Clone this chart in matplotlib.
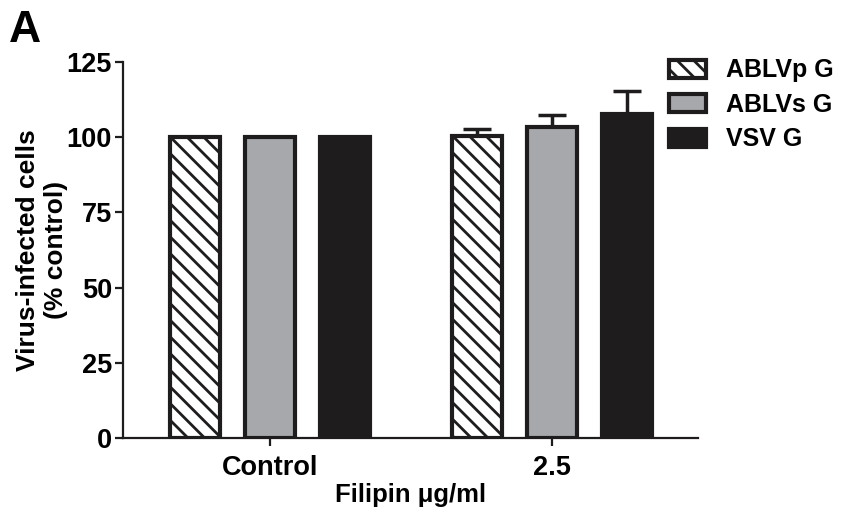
import matplotlib
matplotlib.use("Agg")
import matplotlib.pyplot as plt
import numpy as np

plt.rcParams['font.family'] = ['Liberation Sans', 'DejaVu Sans']
plt.rcParams['font.weight'] = 'bold'
plt.rcParams['hatch.linewidth'] = 2.0

groups = ["Control", "2.5"]
series = ["ABLVp G", "ABLVs G", "VSV G"]
values = {
    "ABLVp G": [100, 100.5],
    "ABLVs G": [100, 103.5],
    "VSV G": [100, 107.7],
}
errors = {
    "ABLVp G": [0, 2.2],
    "ABLVs G": [0, 4.0],
    "VSV G": [0, 7.8],
}
colors = {"ABLVp G": "white", "ABLVs G": "#a7a8ac", "VSV G": "#1f1c1d"}
hatches = {"ABLVp G": "\\\\", "ABLVs G": None, "VSV G": None}
edge = "#1f1c1d"

fig = plt.figure(figsize=(8.44, 5.14), dpi=100)
ax = fig.add_axes([123/844, 1-438/514, (698-123)/844, (438-62)/514])

x = np.arange(len(groups))
step = 0.266
width = 0.18
for i, s in enumerate(series):
    pos = x + (i - 1) * step
    ax.bar(pos, values[s], width, color=colors[s], edgecolor=edge,
           linewidth=3, hatch=hatches[s], label=s, zorder=2)
    errs = np.array(errors[s])
    mask = errs > 0
    ax.errorbar(pos[mask], np.array(values[s])[mask],
                yerr=[np.zeros(mask.sum()), errs[mask]],
                fmt='none', ecolor=edge, elinewidth=2.5, capsize=10,
                capthick=2.5, zorder=1)

ax.set_xlim(-0.521, 1.518)
ax.set_ylim(0, 125)
ax.set_yticks([0, 25, 50, 75, 100, 125])
ax.set_xticks(x)
ax.set_xticklabels(groups)
for sp in ["top", "right"]:
    ax.spines[sp].set_visible(False)
for sp in ["left", "bottom"]:
    ax.spines[sp].set_linewidth(1.6)
    ax.spines[sp].set_color(edge)
ax.tick_params(axis='both', width=1.6, length=6, labelsize=19.5, color=edge)
ax.tick_params(axis='x', pad=6)
ax.tick_params(axis='y', pad=2)
for lab in ax.get_xticklabels() + ax.get_yticklabels():
    lab.set_fontweight('bold')

ax.set_ylabel("Virus-infected cells\n(% control)", fontsize=19, fontweight='bold',
              linespacing=1.22)
ax.yaxis.set_label_coords((68 - 123) / 575, 0.5)
ax.set_xlabel("Filipin \u03bcg/ml", fontsize=18.5, fontweight='bold', labelpad=2)

leg = fig.legend(loc='upper left', bbox_to_anchor=(646/844, 1-36/514),
                 frameon=False, fontsize=18, handlelength=1.5, handleheight=0.75,
                 labelspacing=0.42, handletextpad=0.8)
for t in leg.get_texts():
    t.set_fontweight('bold')

fig.text(9/844, 1-10/514, "A", fontsize=32, fontweight='bold', va='top', ha='left')

fig.savefig("out.png", dpi=100)
